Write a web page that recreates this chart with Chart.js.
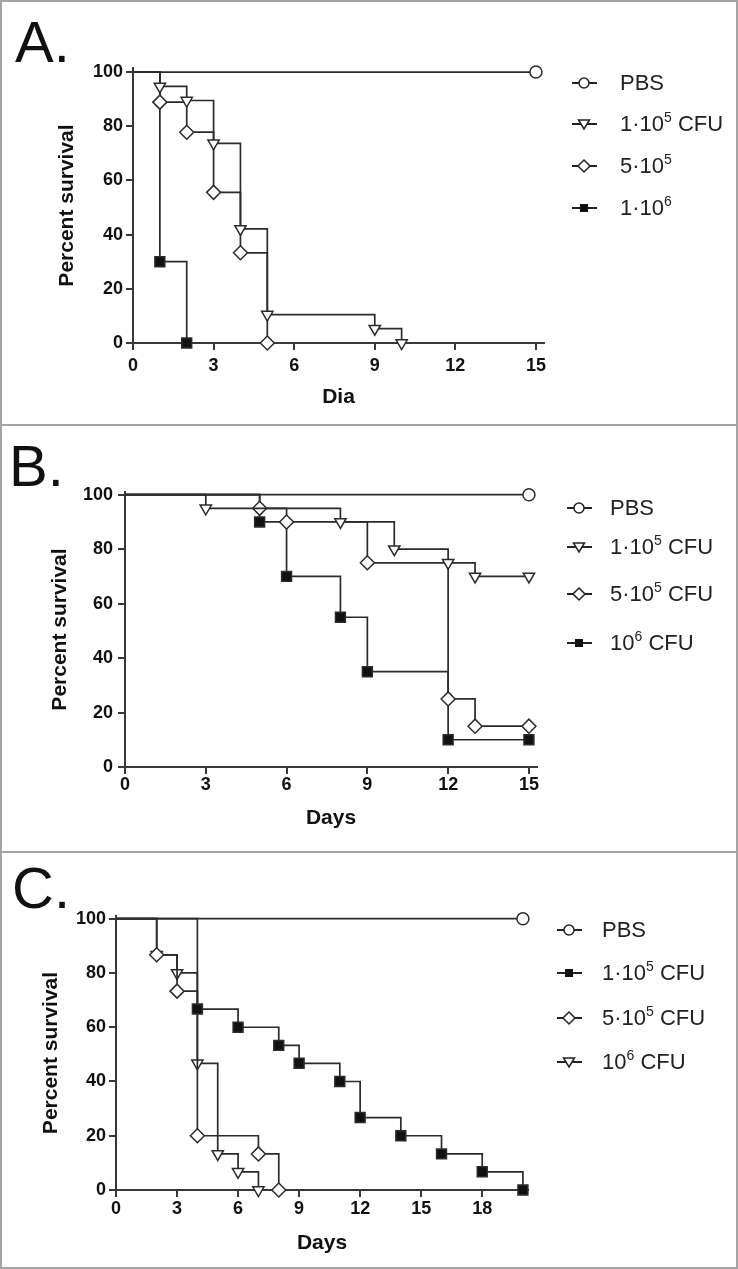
<!DOCTYPE html>
<html lang="en">
<head>
  <meta charset="UTF-8">
  <title>Percent survival</title>
  <script src="https://cdn.jsdelivr.net/npm/chart.js"></script>
  <style>
    body { margin: 0; background: #fff; }
    #page { position: relative; width: 738px; height: 1269px; overflow: hidden; font-family: 'Liberation Sans', Arial, sans-serif; }
    .frame { position: absolute; background: #a4a4a4; }
    .panel { position: absolute; left: 0; width: 738px; }
    .panel canvas { position: absolute; left: 0; top: 0; }
    .tag { position: absolute; font-size: 58px; line-height: 58px; color: #111; }
    .row { position: absolute; height: 30px; display: flex; align-items: center; font-size: 22px; color: #222; white-space: nowrap; }
    .row svg { flex: none; }
    .sup { position: relative; top: -9px; font-size: 14px; }
  </style>
</head>
<body>
<div id="page">
  <div class="panel" id="pA" style="top:0;height:425px"><canvas id="cA" width="738" height="425"></canvas><div class="tag" style="left:15px;top:13px">A.</div></div>
  <div class="panel" id="pB" style="top:425px;height:427px"><canvas id="cB" width="738" height="427"></canvas><div class="tag" style="left:9px;top:12px">B.</div></div>
  <div class="panel" id="pC" style="top:852px;height:417px"><canvas id="cC" width="738" height="417"></canvas><div class="tag" style="left:12px;top:7px">C.</div></div>

  <div class="frame" style="left:0;top:0;width:738px;height:2px"></div>
  <div class="frame" style="left:0;top:1267px;width:738px;height:2px"></div>
  <div class="frame" style="left:0;top:0;width:2px;height:1269px"></div>
  <div class="frame" style="left:736px;top:0;width:2px;height:1269px"></div>
  <div class="frame" style="left:0;top:424px;width:738px;height:2px"></div>
  <div class="frame" style="left:0;top:851px;width:738px;height:2px"></div>
</div>
<script>
  // ---- datos (dias / % supervivencia) ----
  // panel A
  const diasA_pbs = [0, 15];
  const survA_pbs = [100, 100];
  const diasA_1e5 = [0, 1, 2, 3, 4, 5, 9, 10];
  const survA_1e5 = [100, 94.7, 89.5, 73.7, 42.1, 10.5, 5.3, 0];
  const diasA_5e5 = [0, 1, 2, 3, 4, 5];
  const survA_5e5 = [100, 88.9, 77.8, 55.6, 33.3, 0];
  const diasA_1e6 = [0, 1, 2];
  const survA_1e6 = [100, 30, 0];

  // panel B
  const diasB_pbs = [0, 15];
  const survB_pbs = [100, 100];
  const diasB_1e5 = [0, 3, 8, 10, 12, 13, 15];
  const survB_1e5 = [100, 95, 90, 80, 75, 70, 70];
  const diasB_5e5 = [0, 5, 6, 9, 12, 13, 15];
  const survB_5e5 = [100, 95, 90, 75, 25, 15, 15];
  const diasB_1e6 = [0, 5, 6, 8, 9, 12, 15];
  const survB_1e6 = [100, 90, 70, 55, 35, 10, 10];

  // panel C
  const diasC_pbs = [0, 20];
  const survC_pbs = [100, 100];
  const diasC_1e5 = [0, 4, 6, 8, 9, 11, 12, 14, 16, 18, 20];
  const survC_1e5 = [100, 66.7, 60, 53.3, 46.7, 40, 26.7, 20, 13.3, 6.7, 0];
  const diasC_5e5 = [0, 2, 3, 4, 7, 8];
  const survC_5e5 = [100, 86.7, 73.3, 20, 13.3, 0];
  const diasC_1e6 = [0, 2, 3, 4, 5, 6, 7];
  const survC_1e6 = [100, 86.7, 80, 46.7, 13.3, 6.7, 0];

  const yTicks = [0, 20, 40, 60, 80, 100];
  const labelsA = ['PBS', '1·10|5| CFU', '5·10|5|', '1·10|6|'];
  const labelsB = ['PBS', '1·10|5| CFU', '5·10|5| CFU', '10|6| CFU'];
  const labelsC = ['PBS', '1·10|5| CFU', '5·10|5| CFU', '10|6| CFU'];

  const FONT = "'Liberation Sans', Arial, sans-serif";
  const LINE = '#2b2b2b';
  const AXIS = '#383838';
  const Y_W = 100, X_H = 70;

  // estilos de marcador
  const MK = {
    circle: { pointStyle: 'circle', radius: 6, fill: '#fff', rot: 0 },
    tri: { pointStyle: 'triangle', radius: 6.5, fill: '#fff', rot: 180 },
    diamond: { pointStyle: 'rectRot', radius: 7, fill: '#fff', rot: 0 },
    square: { pointStyle: 'rect', radius: 7, fill: '#111', rot: 0 }
  };

  function serie(dias, surv, mk) {
    const m = MK[mk];
    return {
      data: dias.map((d, i) => ({ x: d, y: surv[i] })),
      stepped: true,
      borderColor: LINE,
      borderWidth: 1.7,
      pointStyle: m.pointStyle,
      pointRotation: m.rot,
      pointRadius: c => c.dataIndex === 0 ? 0 : m.radius,
      pointBackgroundColor: m.fill,
      pointBorderColor: LINE,
      pointBorderWidth: 1.5,
      clip: false
    };
  }

  function grafico(id, p, datasets) {
    return new Chart(document.getElementById(id), {
      type: 'line',
      data: { datasets },
      options: {
        responsive: false,
        animation: false,
        events: [],
        layout: { padding: { left: p.l - Y_W, right: 738 - p.r, top: p.t, bottom: p.h - p.b - X_H } },
        plugins: { legend: { display: false }, tooltip: { enabled: false } },
        scales: {
          x: {
            type: 'linear', min: 0, max: p.xMax,
            afterFit: s => { s.height = X_H; },
            ticks: { stepSize: 3, includeBounds: false, padding: p.xPad, color: '#111', font: { family: FONT, size: 18, weight: 'bold' } },
            grid: { drawOnChartArea: false, tickLength: 7, tickColor: AXIS, tickWidth: 2, color: AXIS, lineWidth: 2 },
            border: { color: AXIS, width: 2 },
            title: { display: true, text: p.xTitle, color: '#111', font: { family: FONT, size: 21, weight: 'bold' }, padding: { top: 0, bottom: p.xTitlePad } }
          },
          y: {
            min: 0, max: p.yMax,
            afterFit: s => { s.width = Y_W; },
            afterBuildTicks: s => { s.ticks = yTicks.map(v => ({ value: v })); },
            ticks: { padding: p.yPad, color: '#111', font: { family: FONT, size: 18, weight: 'bold' } },
            grid: { drawOnChartArea: false, tickLength: 7, tickColor: AXIS, tickWidth: 2, color: AXIS, lineWidth: 2 },
            border: { color: AXIS, width: 2 },
            title: { display: true, text: 'Percent survival', color: '#111', font: { family: FONT, size: 21, weight: 'bold' }, padding: { top: p.yTitlePad, bottom: 0 } }
          }
        }
      }
    });
  }

  // leyenda en html (línea + marcador + texto con superíndice)
  function icono(mk) {
    let m = '';
    if (mk === 'circle') m = '<circle cx="12" cy="8" r="5" fill="#fff" stroke="#222" stroke-width="1.5"/>';
    if (mk === 'tri') m = '<polygon points="6.5,4 17.5,4 12,13" fill="#fff" stroke="#222" stroke-width="1.5"/>';
    if (mk === 'diamond') m = '<polygon points="12,2 18,8 12,14 6,8" fill="#fff" stroke="#222" stroke-width="1.5"/>';
    if (mk === 'square') m = '<rect x="8" y="4" width="8" height="8" fill="#111"/>';
    return '<svg width="25" height="16" viewBox="0 0 25 16"><line x1="0" y1="8" x2="25" y2="8" stroke="#222" stroke-width="2"/>' + m + '</svg>';
  }

  function leyenda(panelId, labels, mks, lx, tx, ys) {
    const panel = document.getElementById(panelId);
    labels.forEach((lab, i) => {
      const parts = lab.split('|');
      let html = parts[0];
      if (parts.length > 1) html += '<span class="sup">' + parts[1] + '</span>' + parts[2];
      const row = document.createElement('div');
      row.className = 'row';
      row.style.left = lx + 'px';
      row.style.top = (ys[i] - 15) + 'px';
      row.innerHTML = icono(mks[i]) + '<span style="margin-left:' + (tx - lx - 25) + 'px">' + html + '</span>';
      panel.appendChild(row);
    });
  }

  grafico('cA', { l: 133, r: 544, t: 68, b: 343, h: 425, xMax: 15.3, yMax: 101.5, xTitle: 'Dia', xPad: 5, yPad: 3, xTitlePad: 3, yTitlePad: 22 }, [
    serie(diasA_pbs, survA_pbs, 'circle'),
    serie(diasA_1e5, survA_1e5, 'tri'),
    serie(diasA_5e5, survA_5e5, 'diamond'),
    serie(diasA_1e6, survA_1e6, 'square')
  ]);
  grafico('cB', { l: 125, r: 537, t: 67, b: 342, h: 427, xMax: 15.3, yMax: 101, xTitle: 'Days', xPad: 0, yPad: 5, xTitlePad: 6, yTitlePad: 23 }, [
    serie(diasB_pbs, survB_pbs, 'circle'),
    serie(diasB_1e5, survB_1e5, 'tri'),
    serie(diasB_5e5, survB_5e5, 'diamond'),
    serie(diasB_1e6, survB_1e6, 'square')
  ]);
  grafico('cC', { l: 116, r: 528, t: 64, b: 338, h: 417, xMax: 20.25, yMax: 101, xTitle: 'Days', xPad: 1, yPad: 3, xTitlePad: 4, yTitlePad: 23 }, [
    serie(diasC_pbs, survC_pbs, 'circle'),
    serie(diasC_1e5, survC_1e5, 'square'),
    serie(diasC_5e5, survC_5e5, 'diamond'),
    serie(diasC_1e6, survC_1e6, 'tri')
  ]);

  leyenda('pA', labelsA, ['circle', 'tri', 'diamond', 'square'], 572, 620, [83, 124, 166, 208]);
  leyenda('pB', labelsB, ['circle', 'tri', 'diamond', 'square'], 567, 610, [83, 122, 169, 218]);
  leyenda('pC', labelsC, ['circle', 'square', 'diamond', 'tri'], 557, 602, [78, 121, 166, 210]);
</script>
</body>
</html>
